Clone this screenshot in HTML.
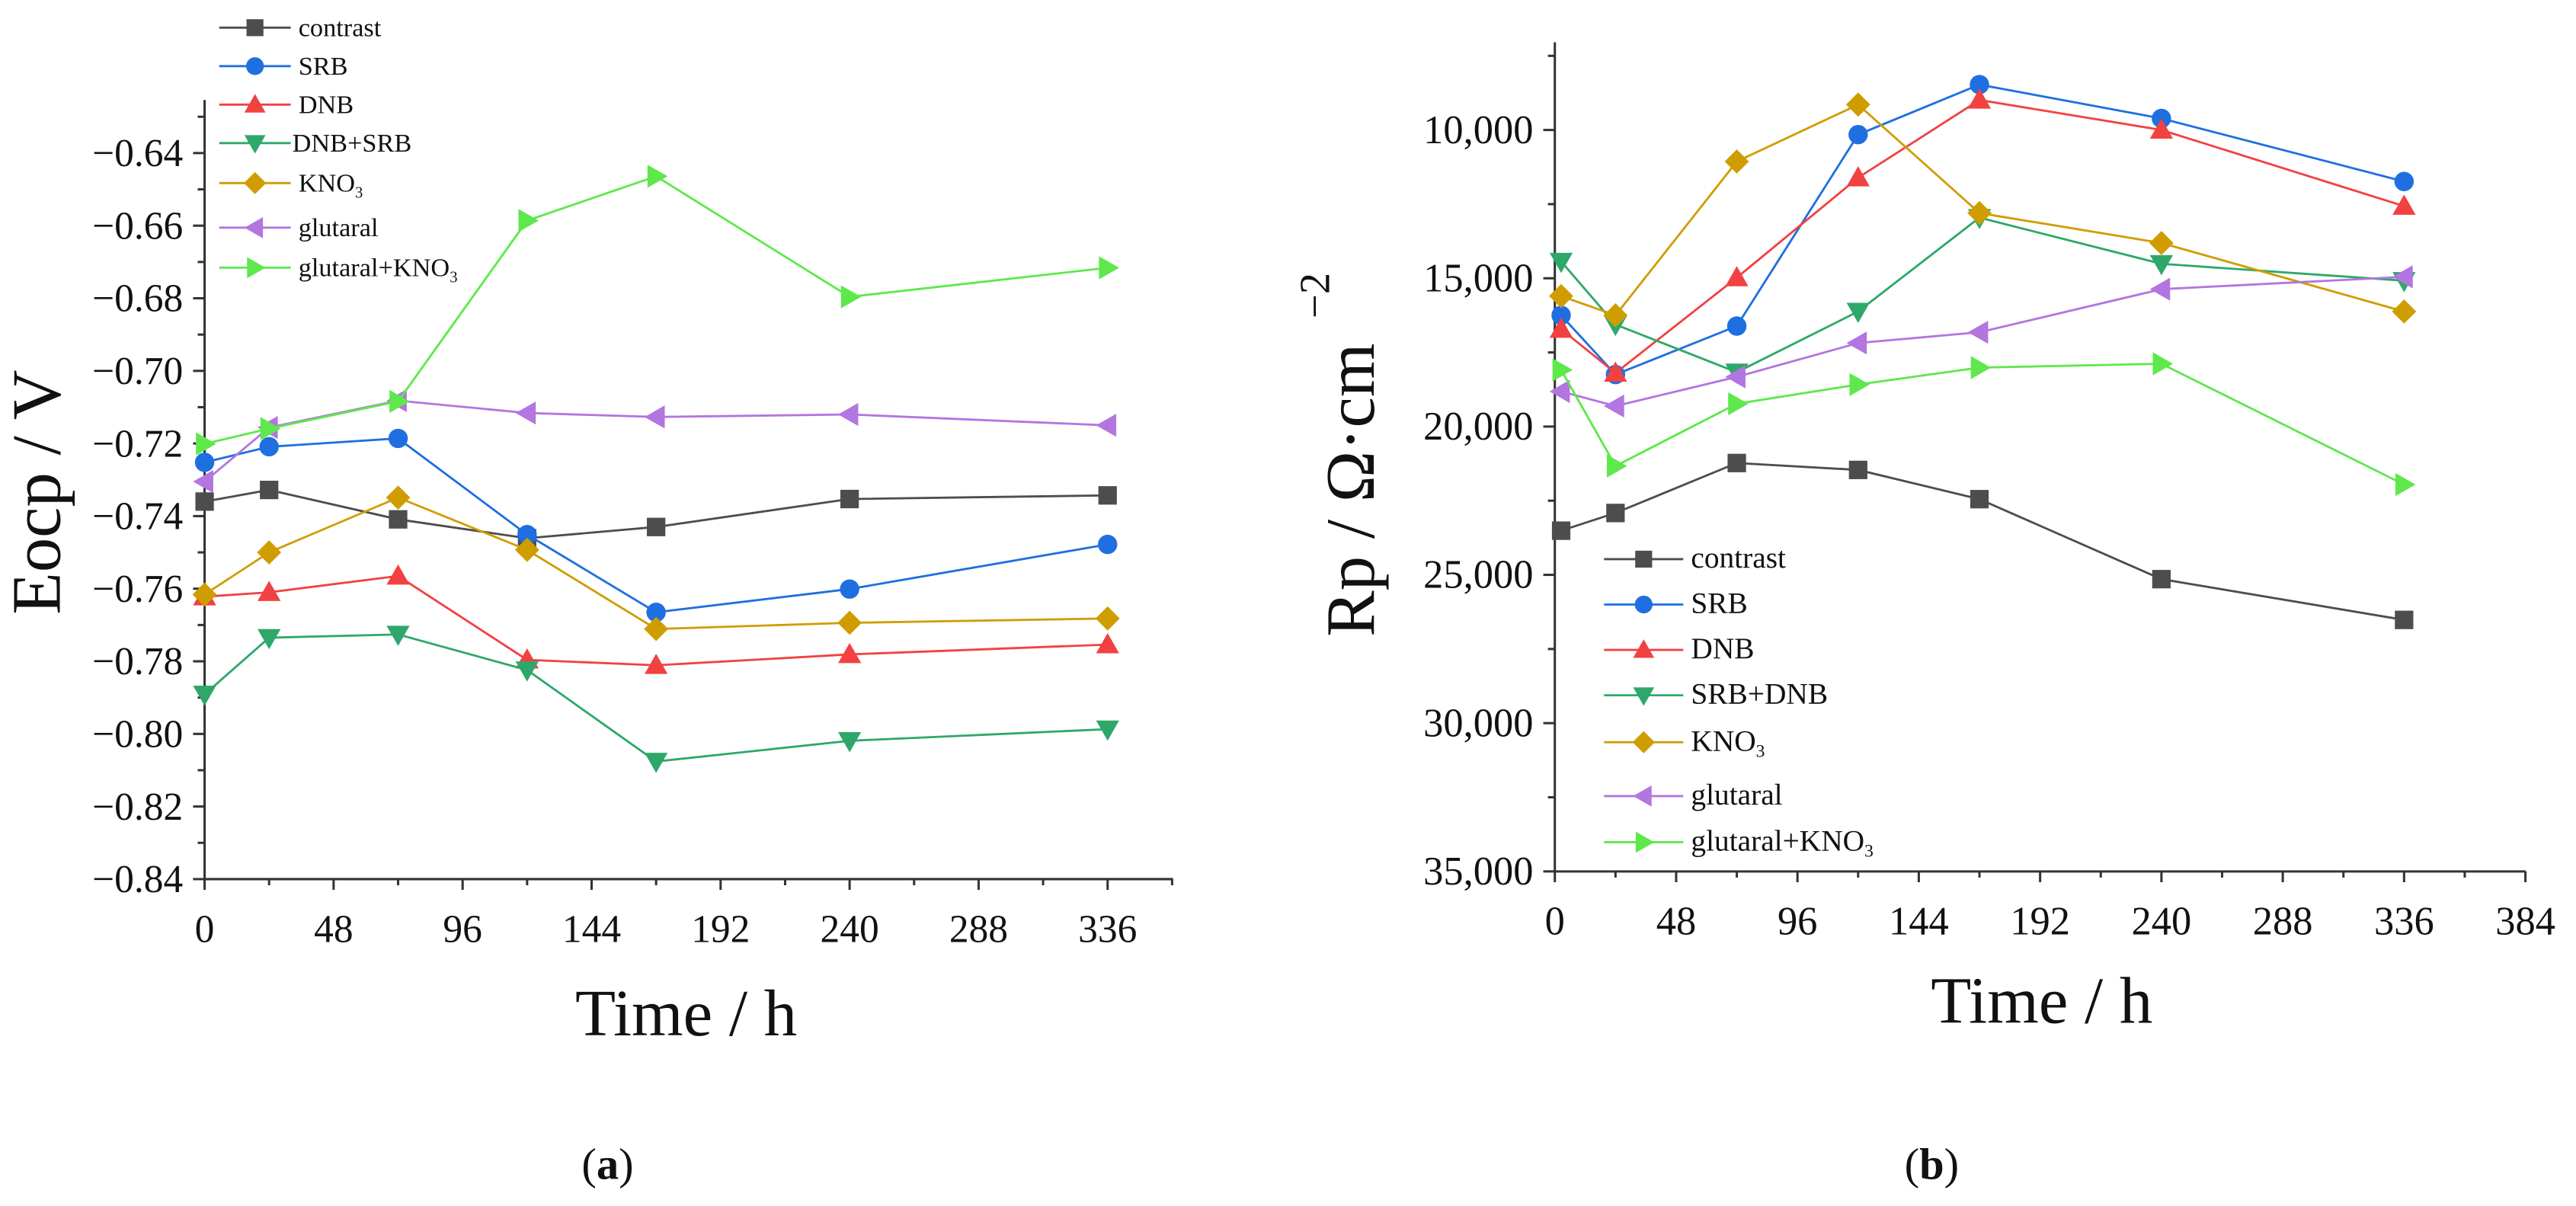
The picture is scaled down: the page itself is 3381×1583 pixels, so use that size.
<!DOCTYPE html>
<html><head><meta charset="utf-8"><style>
html,body{margin:0;padding:0;background:#fff;}
svg{display:block;}
svg text, svg tspan{font-family:"Liberation Serif","Times New Roman",serif !important;fill:#111;}
</style></head><body>
<svg id="fig" width="3381" height="1583" viewBox="0 0 3349 1568" preserveAspectRatio="none" xmlns="http://www.w3.org/2000/svg" font-family="Liberation Serif, serif">
<rect width="3349" height="1568" fill="#fff"/>
<g id="chartA"></g>
<g id="chartB"></g>
</svg>
<script>
const hours=[0,24,72,120,168,240,336];
const hoursB=[2.5,24,72,120,168,240,336];
const seriesNames=["contrast","SRB","DNB","DNB+SRB","KNO3","glutaral","glutaral+KNO3"];
const seriesNamesB=["contrast","SRB","DNB","SRB+DNB","KNO3","glutaral","glutaral+KNO3"];
const eContrast=[-0.736,-0.7328,-0.7409,-0.7461,-0.743,-0.7353,-0.7343];
const eSRB=[-0.7252,-0.7209,-0.7186,-0.7451,-0.7665,-0.7601,-0.7478];
const eDNB=[-0.7622,-0.761,-0.7565,-0.7796,-0.7811,-0.7781,-0.7754];
const eDNBSRB=[-0.7891,-0.7735,-0.7726,-0.7824,-0.8076,-0.8019,-0.7987];
const eKNO3=[-0.7616,-0.75,-0.7349,-0.7493,-0.7711,-0.7694,-0.7682];
const eGlut=[-0.7305,-0.7156,-0.7082,-0.7116,-0.7127,-0.712,-0.715];
const eGlutKNO3=[-0.7201,-0.7159,-0.7084,-0.6586,-0.6464,-0.6796,-0.6716];
const rContrast=[23511,22914,21229,21462,22448,25145,26519];
const rSRB=[16250,18246,16612,10156,8470,9611,11737];
const rDNB=[16716,18194,14979,11608,8989,10000,12567];
const rSRBDNB=[14434,16560,18168,16120,12956,14512,15082];
const rKNO3=[15601,16249,11063,9144,12800,13812,16120];
const rGlut=[18816,19309,18324,17183,16820,15368,14953];
const rGlutKNO3=[18090,21331,19231,18583,18012,17883,21954];
const aYTicks=[-0.84,-0.82,-0.80,-0.78,-0.76,-0.74,-0.72,-0.70,-0.68,-0.66,-0.64];
const aYLabels=["\u22120.84","\u22120.82","\u22120.80","\u22120.78","\u22120.76","\u22120.74","\u22120.72","\u22120.70","\u22120.68","\u22120.66","\u22120.64"];
const aXTicks=[0,48,96,144,192,240,288,336];
const bXTicks=[0,48,96,144,192,240,288,336,384];
const bYTicks=[10000,15000,20000,25000,30000,35000];
const bYLabels=["10,000","15,000","20,000","25,000","30,000","35,000"];

const colors=["#4d4d4d","#1f6fe0","#f24141","#2ea86a","#d09d00","#b375e0","#5ee84c"];
const shapes=["square","circle","up","down","diamond","left","right"];
const NS="http://www.w3.org/2000/svg";
const FF="Liberation Serif, Times New Roman, serif";
function mk(tag,attrs,parent){const e=document.createElementNS(NS,tag);for(const k in attrs)e.setAttribute(k,attrs[k]);if(tag==="text")e.setAttribute("font-family",FF);parent.appendChild(e);return e;}
function marker(g,shape,x,y,c,s){
  let e;
  if(shape==="square")e=mk("rect",{x:x-s,y:y-s,width:2*s,height:2*s,fill:c},g);
  else if(shape==="circle")e=mk("circle",{cx:x,cy:y,r:s*1.05,fill:c},g);
  else{
    let p;const t=s*1.25;
    if(shape==="up")p=[[x,y-t],[x+t,y+t*0.75],[x-t,y+t*0.75]];
    if(shape==="down")p=[[x,y+t],[x+t,y-t*0.75],[x-t,y-t*0.75]];
    if(shape==="left")p=[[x-t,y],[x+t*0.75,y-t],[x+t*0.75,y+t]];
    if(shape==="right")p=[[x+t,y],[x-t*0.75,y-t],[x-t*0.75,y+t]];
    if(shape==="diamond")p=[[x,y-t*1.05],[x+t*1.05,y],[x,y+t*1.05],[x-t*1.05,y]];
    e=mk("polygon",{points:p.map(q=>q.join(",")).join(" "),fill:c},g);
  }
  return e;
}
function txt(g,x,y,s,size,anchor,extra){const t=mk("text",Object.assign({x:x,y:y,"font-size":size,"text-anchor":anchor||"start"},extra||{}),g);t.textContent=s;return t;}

function drawChart(g,cfg){
  const sx=v=>cfg.x0+(v-cfg.xmin)*cfg.xs;
  const sy=v=>cfg.y0-(v-cfg.ymin)*cfg.ys;
  let ax=mk("line",{x1:cfg.x0,y1:cfg.y0,x2:cfg.x0,y2:cfg.ytop,stroke:"#333","stroke-width":3},g);
  
  
  let bx=mk("line",{x1:cfg.x0,y1:cfg.y0,x2:cfg.xend,y2:cfg.y0,stroke:"#333","stroke-width":3},g);
  
  
  cfg.yTicks.forEach((v,i)=>{
    const y=sy(v);
    mk("line",{x1:cfg.x0-15,y1:y,x2:cfg.x0,y2:y,stroke:"#333","stroke-width":3},g);
    const t=txt(g,cfg.x0-28,y+17,cfg.yLabels[i],cfg.tickFont,"end");
    
    
    const m=v+cfg.yMinorStep;
    if(sy(m)>=cfg.ytop-2) mk("line",{x1:cfg.x0-9,y1:sy(m),x2:cfg.x0,y2:sy(m),stroke:"#333","stroke-width":3},g);
  });
  cfg.xTicks.forEach((v,i)=>{
    const x=sx(v);
    mk("line",{x1:x,y1:cfg.y0,x2:x,y2:cfg.y0+14,stroke:"#333","stroke-width":3},g);
    const xm=sx(v+24);
    if(xm<=cfg.xend+1) mk("line",{x1:xm,y1:cfg.y0,x2:xm,y2:cfg.y0+8,stroke:"#333","stroke-width":3},g);
    const t=txt(g,x,cfg.y0+82,String(v),cfg.tickFont,"middle");
    
    
  });
  cfg.series.forEach((vals,si)=>{
    const sg=mk("g",{},g);
    
    
    const pts=vals.map((v,i)=>sx(cfg.xs_[i])+","+sy(v)).join(" ");
    mk("polyline",{points:pts,fill:"none",stroke:colors[si],"stroke-width":2.8},sg);
    vals.forEach((v,i)=>{
      const m=marker(sg,shapes[si],sx(cfg.xs_[i]),sy(v),colors[si],12);
      
      
    });
  });
  cfg.names.forEach((n,i)=>{
    const lg=mk("g",{},g);
    
    
    const y=cfg.legY[i];
    mk("line",{x1:cfg.legX,y1:y,x2:cfg.legX+cfg.legW,y2:y,stroke:colors[i],"stroke-width":2.8},lg);
    marker(lg,shapes[i],cfg.legX+cfg.legW/2,y,colors[i],11);
    const t=mk("text",{x:cfg.legX+cfg.legW+(i===3&&cfg.tightDNB?2:10),y:y+11,"font-size":cfg.legFont},lg);
    if(n.indexOf("KNO3")>=0){
      t.appendChild(document.createTextNode(n.replace("KNO3","KNO")));
      const s=mk("tspan",{"font-size":cfg.legFont*0.6,dy:8},t);s.textContent="3";
    } else t.textContent=n;
  });
}

const A=document.getElementById("chartA");
drawChart(A,{x0:266,y0:1143,ytop:130,xend:1525,xmin:0,xs:3.494,ymin:-0.84,ys:4720,
  yTicks:aYTicks,yLabels:aYLabels,yMinorStep:0.01,xTicks:aXTicks,tickFont:51,
  series:[eContrast,eSRB,eDNB,eDNBSRB,eKNO3,eGlut,eGlutKNO3],xs_:hours,names:seriesNames,
  legX:285,legW:93,legY:[36,86,136,186,238,296,348],legFont:34,tightDNB:true});
let ta=txt(A,78,640,"Eocp / V",90,"middle",{transform:"rotate(-90 78 640)"});

let xa=txt(A,892,1346,"Time / h",86,"middle");

let ca=mk("text",{x:790,y:1533,"font-size":58,"text-anchor":"middle"},A);

ca.innerHTML='(<tspan font-weight="bold">a</tspan>)';

const B=document.getElementById("chartB");
const OX=1733.4;
drawChart(B,{x0:OX+288,y0:1133,ytop:55,xend:OX+1550,xmin:0,xs:3.286,ymin:35000,ys:-0.03856,
  yTicks:bYTicks,yLabels:bYLabels,yMinorStep:-2500,xTicks:bXTicks,tickFont:52,
  series:[rContrast,rSRB,rDNB,rSRBDNB,rKNO3,rGlut,rGlutKNO3],xs_:hoursB,names:seriesNamesB,
  legX:OX+352,legW:103,legY:[727,786,845,904,965,1035,1095],legFont:39,tightDNB:false});
let tb=mk("text",{x:1786,y:828,"font-size":90,transform:"rotate(-90 1786 828)"},B);
tb.textContent="Rp / \u03A9\u00B7cm";

let sup=mk("text",{x:1728,y:414,"font-size":56,transform:"rotate(-90 1728 414)"},B);
sup.textContent="\u22122";

let xb=txt(B,OX+921,1330,"Time / h",86,"middle");

let cb=mk("text",{x:OX+778,y:1533,"font-size":58,"text-anchor":"middle"},B);

cb.innerHTML='(<tspan font-weight="bold">b</tspan>)';
</script>
</body></html>
